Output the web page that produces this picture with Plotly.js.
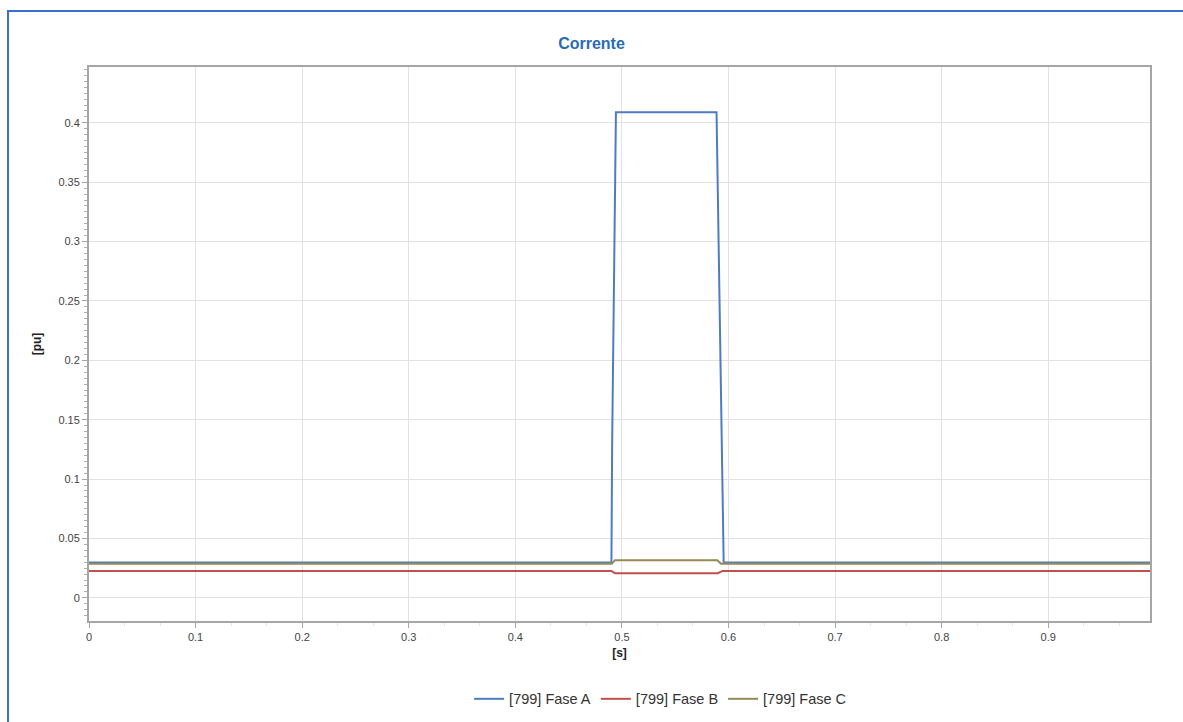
<!DOCTYPE html>
<html>
<head>
<meta charset="utf-8">
<script src="https://cdn.plot.ly/plotly-3.0.1.min.js"></script>
<style>
html,body{margin:0;padding:0;background:#fff;}
#wrap{position:relative;width:1183px;height:722px;overflow:hidden;}
#frame{position:absolute;left:7px;top:10px;width:1200px;height:800px;border-left:2px solid #3b6fd6;border-top:2px solid #3b6fd6;pointer-events:none;z-index:5;}
#chart{position:absolute;left:0;top:0;width:1183px;height:722px;}
</style>
</head>
<body>
<div id="wrap">
<div id="chart"></div>
<div id="frame"></div>
</div>
<script>
// Series data (time in s, current in pu)
const faseA_t = [0, 0.4902, 0.4908, 0.4918, 0.4930, 0.4944, 0.5888, 0.5900, 0.5915, 0.5928, 0.5941, 0.5955, 0.9955];
const faseA_y = [0.0297, 0.0297, 0.125, 0.219, 0.314, 0.409, 0.409, 0.334, 0.257, 0.181, 0.104, 0.0297, 0.0297];

const faseB_t = [0, 0.4900, 0.4935, 0.5900, 0.5945, 0.9955];
const faseB_y = [0.0227, 0.0227, 0.0208, 0.0208, 0.0227, 0.0227];

const faseC_t = [0, 0.4905, 0.4935, 0.5895, 0.5930, 0.9955];
const faseC_y = [0.0287, 0.0287, 0.0317, 0.0317, 0.0287, 0.0287];

const seriesNames = ["[799] Fase A", "[799] Fase B", "[799] Fase C"];
const seriesColors = ["#4f7cc0", "#c0504d", "#948a54"];

const traces = [
  {x: faseA_t, y: faseA_y, name: seriesNames[0], mode: "lines", line: {color: seriesColors[0], width: 2}},
  {x: faseB_t, y: faseB_y, name: seriesNames[1], mode: "lines", line: {color: seriesColors[1], width: 2}},
  {x: faseC_t, y: faseC_y, name: seriesNames[2], mode: "lines", line: {color: seriesColors[2], width: 2}}
];

const font = "Liberation Sans, Arial, sans-serif";

const layout = {
  width: 1183, height: 722,
  paper_bgcolor: "#ffffff", plot_bgcolor: "#ffffff",
  margin: {l: 89, r: 33, t: 67, b: 101, autoexpand: false},
  font: {family: font, size: 11, color: "#444"},
  title: {text: "<b>Corrente</b>", font: {family: font, size: 16, color: "#2a6cb0"}, x: 0.5, xanchor: "center", y: 0.94, yanchor: "middle", yref: "container"},
  showlegend: true,
  legend: {orientation: "h", x: 0.558, xref: "container", xanchor: "center", y: 0.032, yref: "container", yanchor: "middle", font: {family: font, size: 14.5, color: "#333"}, bgcolor: "rgba(0,0,0,0)", itemwidth: 30},
  xaxis: {
    range: [0, 0.9955], dtick: 0.1, tick0: 0, automargin: false,
    showgrid: true, gridcolor: "#e2e2e2", gridwidth: 1,
    zeroline: false,
    showline: true, linecolor: "#a6a6a6", linewidth: 2, mirror: true,
    ticks: "outside", ticklen: 5, tickcolor: "#a6a6a6",
    minor: {dtick: 0.1/3, ticks: "outside", ticklen: 3, tickcolor: "#e4e4e4", showgrid: false},
    tickfont: {family: font, size: 11, color: "#444"},
    title: {text: "<b>[s]</b>", font: {family: font, size: 12, color: "#222"}, standoff: 6}
  },
  yaxis: {
    range: [-0.0195, 0.447], dtick: 0.05, tick0: 0, automargin: false,
    showgrid: true, gridcolor: "#e2e2e2", gridwidth: 1,
    zeroline: false,
    showline: true, linecolor: "#a6a6a6", linewidth: 2, mirror: true,
    ticks: "outside", ticklen: 5, tickcolor: "#a6a6a6",
    minor: {dtick: 0.005, ticks: "outside", ticklen: 3, tickcolor: "#b0b0b0", showgrid: false},
    tickfont: {family: font, size: 11, color: "#444"},
    title: {text: "<b>[pu]</b>", font: {family: font, size: 12, color: "#222"}, standoff: 14}
  }
};

Plotly.newPlot("chart", traces, layout, {displayModeBar: false, staticPlot: true});
</script>
</body>
</html>
